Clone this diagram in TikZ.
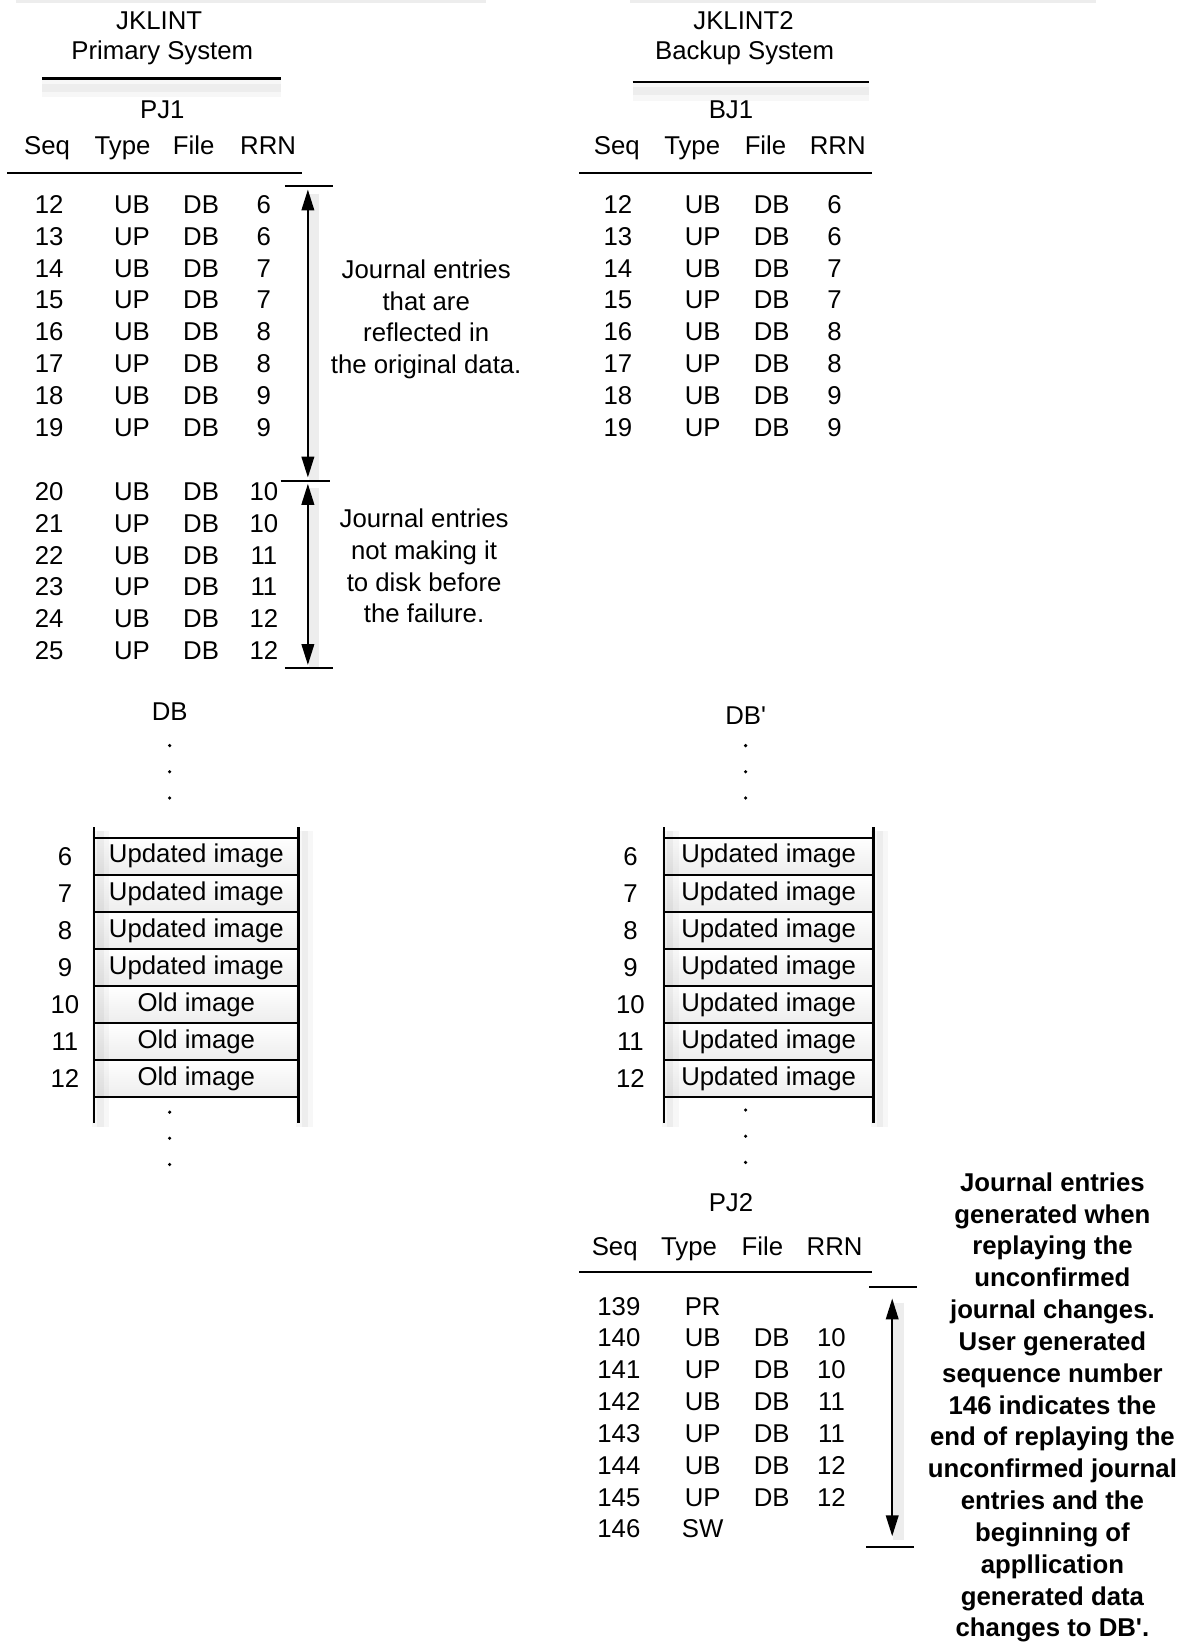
\documentclass[tikz,border=0pt]{standalone}
\usepackage{fontspec}
\setmainfont{Liberation Sans}
\usetikzlibrary{arrows.meta}
\begin{document}
\begin{tikzpicture}[x=0.5pt,y=-0.5pt,
  every node/.style={font=\fontsize{12.3}{15.2}\selectfont, inner sep=0pt},
  t/.style={anchor=base, yshift=-4.4pt},
  rule/.style={line width=1pt, line cap=butt},
  hshadow/.style={preaction={draw=black, opacity=0.03, line width=9pt, transform canvas={yshift=-4.5pt}},
                  preaction={draw=black, opacity=0.04, line width=4pt, transform canvas={yshift=-4.5pt}}},
  vshadow/.style={preaction={draw=black, opacity=0.03, line width=8pt, transform canvas={xshift=3pt,yshift=-2pt}},
                  preaction={draw=black, opacity=0.04, line width=3pt, transform canvas={xshift=3pt,yshift=-2pt}}},
  vline/.style={line width=1.1pt},
  cellbox/.style={draw, line width=0.9pt, minimum width=97.5pt, minimum height=17.7pt,
                  top color=white, bottom color=black!7, anchor=center},
  arr/.style={line width=1pt, {Triangle[length=10pt,width=6pt]}-{Triangle[length=10pt,width=6pt]}},
  arrshadow/.style={draw=black, opacity=0.07, line width=5pt, transform canvas={xshift=3pt,yshift=-2pt}},
  note/.style={align=center},
  boldnote/.style={align=center, font=\fontsize{12.3}{15.2}\selectfont\bfseries},
  dot/.style={fill=black}
]
\useasboundingbox (0,0) rectangle (1142,1568);
\fill[white] (0,0) rectangle (1142,1568);

% faint cut shadows at the top edge
\fill[black!7] (15,0) rectangle (464,3);
\fill[black!7] (602,0) rectangle (1047,3);

% ---------------- Primary system header ----------------
\node (jk1) at (152,20) {JKLINT};
\node (ps) at (155,50) {Primary System};
\coordinate (h1l) at (40,75); \coordinate (h1r) at (268,75);
\draw[rule, hshadow] (h1l) -- (h1r);
\node (pj1) at (155,105) {PJ1};
\node[t] (lhs) at (45,139) {Seq};
\node[t] (lht) at (117,139) {Type};
\node[t] (lhf) at (185,139) {File};
\node[t] (lhr) at (256,139) {RRN};
\coordinate (r1l) at (7,165); \coordinate (r1r) at (288,165);
\draw[rule] (r1l) -- (r1r);

\foreach \s/\ty/\r [count=\k from 0] in {12/UB/6,13/UP/6,14/UB/7,15/UP/7,16/UB/8,17/UP/8,18/UB/9,19/UP/9,20/UB/10,21/UP/10,22/UB/11,23/UP/11,24/UB/12,25/UP/12}{
  \pgfmathsetmacro{\yy}{\k<8 ? 195+30.4*\k : 469+30.4*(\k-8)}
  \node[t] (ls\s) at (47,\yy) {\s};
  \node[t] (lt\s) at (126,\yy) {\ty};
  \node[t] (lf\s) at (192,\yy) {DB};
  \node[t] (lr\s) at (252,\yy) {\r};
}

% arrows left
\coordinate (b1l) at (272,178); \coordinate (b1r) at (318,178);
\coordinate (b2l) at (268,459); \coordinate (b2r) at (315,459);
\coordinate (b3l) at (272,638); \coordinate (b3r) at (318,638);
\draw[rule] (b1l) -- (b1r);
\draw[rule] (b2l) -- (b2r);
\draw[rule] (b3l) -- (b3r);
\coordinate (a1t) at (294,181); \coordinate (a1b) at (294,456);
\coordinate (a2t) at (294,462); \coordinate (a2b) at (294,635);
\draw[arrshadow] (a1t) -- (a1b);
\draw[arrshadow] (a2t) -- (a2b);
\draw[arr] (a1t) -- (a1b);
\draw[arr] (a2t) -- (a2b);

\node[note] (n1) at (407,305) {Journal entries\\that are\\reflected in\\the original data.};
\node[note] (n2) at (405,540.5) {Journal entries\\not making it\\to disk before\\the failure.};

% ---------------- DB box ----------------
\node (dbl) at (162,680) {DB};
\foreach \yy in {712,737,762,1062,1087,1112}{ \fill[dot] (162,\yy) circle (1.7); }
\foreach \lab/\txt [count=\k from 0] in {6/Updated image,7/Updated image,8/Updated image,9/Updated image,10/Old image,11/Old image,12/Old image}{
  \pgfmathsetmacro{\yc}{817.7+35.4*\k}
  \node[cellbox] (dl\lab) at (187.5,\yc) {\txt};
  \node[t] (dln\lab) at (62,\yc) {\lab};
}
\draw[vline, vshadow] (90,790) -- (90,1072);
\draw[vline, vshadow] (285,790) -- (285,1072);

% ---------------- Backup system header ----------------
\node (jk2) at (710,20) {JKLINT2};
\node (bs) at (711,50) {Backup System};
\coordinate (h2l) at (604,78); \coordinate (h2r) at (830,78);
\draw[rule, hshadow] (h2l) -- (h2r);
\node (bj1) at (698,105) {BJ1};
\node[t] (rhs) at (589,139) {Seq};
\node[t] (rht) at (661,139) {Type};
\node[t] (rhf) at (731,139) {File};
\node[t] (rhr) at (800,139) {RRN};
\coordinate (r2l) at (553,165); \coordinate (r2r) at (833,165);
\draw[rule] (r2l) -- (r2r);
\foreach \s/\ty/\r [count=\k from 0] in {12/UB/6,13/UP/6,14/UB/7,15/UP/7,16/UB/8,17/UP/8,18/UB/9,19/UP/9}{
  \pgfmathsetmacro{\yy}{195+30.4*\k}
  \node[t] (rs\s) at (590,\yy) {\s};
  \node[t] (rt\s) at (671,\yy) {\ty};
  \node[t] (rf\s) at (737,\yy) {DB};
  \node[t] (rr\s) at (797,\yy) {\r};
}

% ---------------- DB' box ----------------
\node (dbr) at (712,683) {DB\textquotesingle};
\foreach \yy in {712,737,762,1060,1085,1110}{ \fill[dot] (712,\yy) circle (1.7); }
\foreach \lab [count=\k from 0] in {6,7,8,9,10,11,12}{
  \pgfmathsetmacro{\yc}{817.7+35.4*\k}
  \node[cellbox, minimum width=100pt] (dr\lab) at (734,\yc) {Updated image};
  \node[t] (drn\lab) at (602,\yc) {\lab};
}
\draw[vline, vshadow] (634,790) -- (634,1072);
\draw[vline, vshadow] (834,790) -- (834,1072);

% ---------------- PJ2 ----------------
\node (pj2) at (698,1148) {PJ2};
\node[t] (phs) at (587,1190) {Seq};
\node[t] (pht) at (658,1190) {Type};
\node[t] (phf) at (728,1190) {File};
\node[t] (phr) at (797,1190) {RRN};
\coordinate (r3l) at (553,1215); \coordinate (r3r) at (833,1215);
\draw[rule] (r3l) -- (r3r);
\node[t] (ps139) at (591,1247) {139};
\node[t] (pt139) at (671,1247) {PR};
\foreach \s/\ty/\r [count=\k from 1] in {140/UB/10,141/UP/10,142/UB/11,143/UP/11,144/UB/12,145/UP/12}{
  \pgfmathsetmacro{\yy}{1247+30.4*\k}
  \node[t] (ps\s) at (591,\yy) {\s};
  \node[t] (pt\s) at (671,\yy) {\ty};
  \node[t] (pf\s) at (737,\yy) {DB};
  \node[t] (pr\s) at (794,\yy) {\r};
}
\node[t] (ps146) at (591,1459.8) {146};
\node[t] (pt146) at (671,1459.8) {SW};

\coordinate (b4l) at (830,1229); \coordinate (b4r) at (876,1229);
\coordinate (b5l) at (827,1477); \coordinate (b5r) at (873,1477);
\draw[rule] (b4l) -- (b4r);
\draw[rule] (b5l) -- (b5r);
\coordinate (a3t) at (852,1240); \coordinate (a3b) at (852,1467);
\draw[arrshadow] (a3t) -- (a3b);
\draw[arr] (a3t) -- (a3b);

\node[boldnote] (n3) at (1005,1344) {Journal entries\\generated when\\replaying the\\unconfirmed\\journal changes.\\User generated\\sequence number\\146 indicates the\\end of replaying the\\unconfirmed journal\\entries and the\\beginning of\\appllication\\generated data\\changes to DB\textquotesingle.};
\end{tikzpicture}
\end{document}
